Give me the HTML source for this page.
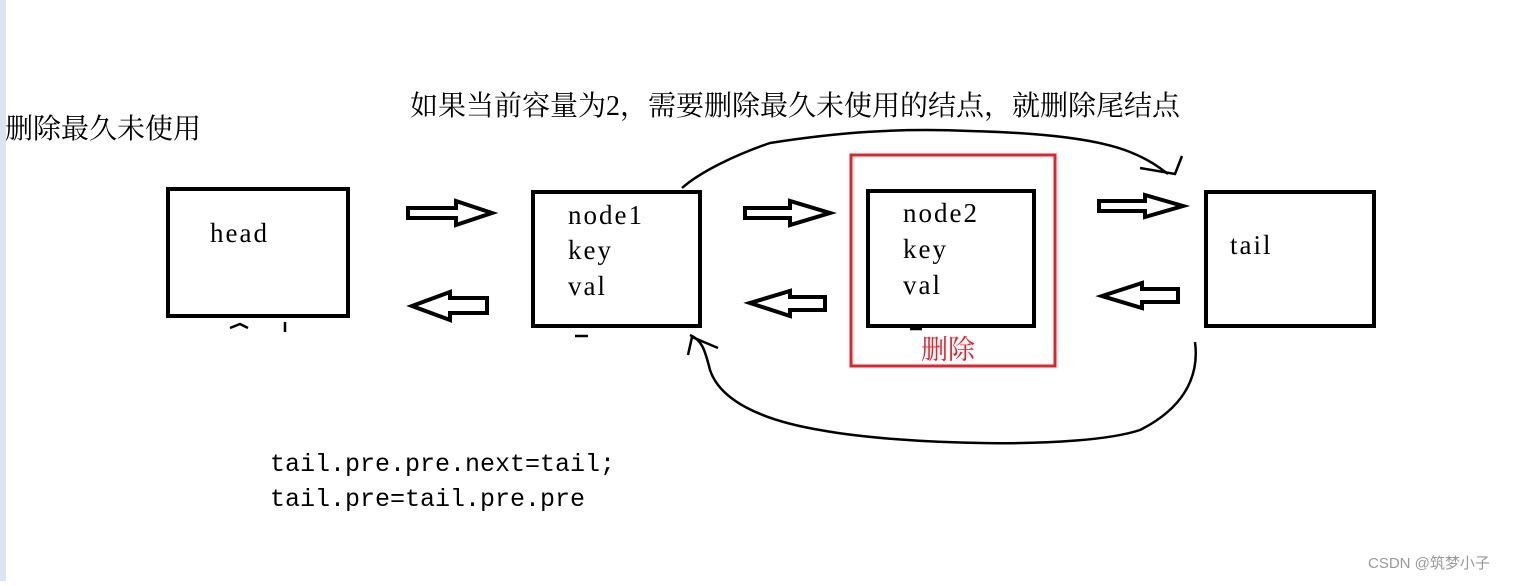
<!DOCTYPE html>
<html><head><meta charset="utf-8"><style>
body{margin:0;width:1521px;height:581px;background:#fff;overflow:hidden}
</style></head><body>
<svg width="1521" height="581" xmlns="http://www.w3.org/2000/svg">
<rect x="0" y="0" width="6" height="581" fill="#dce4f0"/>
<g font-family="'Liberation Serif','Noto Serif CJK SC',serif" fill="#000">
<text x="410" y="115" font-size="28">如果当前容量为2，需要删除最久未使用的结点，就删除尾结点</text>
<text x="5" y="138" font-size="28">删除最久未使用</text>
<g font-size="27" letter-spacing="2">
<text x="210" y="242">head</text>
<text x="568" y="224">node1</text><text x="568" y="259">key</text><text x="568" y="295">val</text>
<text x="903" y="222">node2</text><text x="903" y="258">key</text><text x="903" y="294">val</text>
<text x="1230" y="254">tail</text>
</g>
<text x="921" y="359" font-size="27" fill="#e8202a">删除</text>
</g>
<g font-family="'Liberation Mono',monospace" font-size="25" fill="#000">
<text x="270" y="471">tail.pre.pre.next=tail;</text>
<text x="270" y="506">tail.pre=tail.pre.pre</text>
</g>
<g fill="none" stroke="#000" stroke-width="4">
<rect x="168" y="189" width="180" height="127"/>
<rect x="533" y="192" width="167" height="134"/>
<rect x="868" y="191" width="166" height="135"/>
<rect x="1206" y="192" width="168" height="134"/>
</g>
<rect x="851" y="155" width="204" height="211" fill="none" stroke="#e8202a" stroke-width="3"/>
<g fill="none" stroke="#000" stroke-width="4" stroke-linejoin="miter">
<path d="M408 208 H456 V201 L492 213 L456 225 V218 H408 Z"/>
<path d="M745 208 H790 V201 L830 213 L790 225 V218 H745 Z"/>
<path d="M1099 201 H1145 V195 L1183 206 L1145 217 V211 H1099 Z"/>
<path d="M487 298 H450 V292 L412 306 L450 320 V313 H487 Z"/>
<path d="M825 297 H790 V291 L750 303 L790 316 V310 H825 Z"/>
<path d="M1178 289 H1142 V283 L1102 296 L1142 308 V302 H1178 Z"/>
</g>
<g fill="none" stroke="#000" stroke-width="2.5">
<path d="M682 188 C700 172 735 155 770 143 C840 132 900 128 970 131 C1050 133 1100 140 1130 152 C1150 160 1160 168 1168 174"/>
<path d="M1140 168 L1175 174 L1182 156"/>
<path d="M1195 342 C1200 380 1180 410 1140 430 C1080 450 900 445 820 430 C760 420 720 400 710 370 C705 350 702 340 690 335"/>
<path d="M688 355 L692 337 L718 348"/>
<path d="M230 328 L240 324 L248 328 M285 322 V332 M575 336 H588 M910 329 H922"/>
</g>
<text x="1368" y="568" font-family="'Liberation Sans','Noto Sans CJK SC',sans-serif" font-size="15" fill="#999">CSDN @筑梦小子</text>
</svg>
</body></html>
